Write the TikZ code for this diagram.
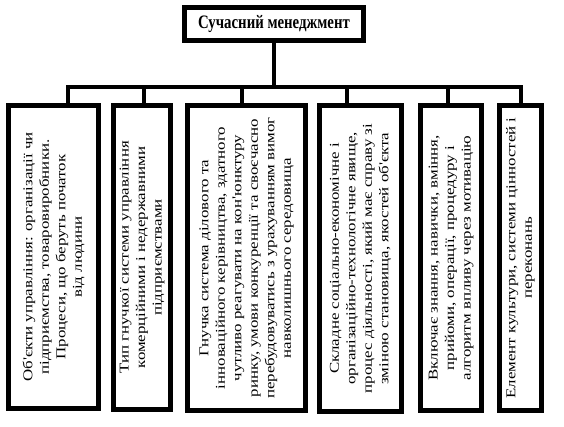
\documentclass[tikz,border=0pt]{standalone}
\usepackage{fontspec}
\setmainfont{Liberation Serif}
\newfontfamily\boxfont[FakeStretch=1.25]{Liberation Serif}
\newfontfamily\headfont[FakeStretch=0.78]{Liberation Serif}
\usetikzlibrary{positioning}

\begin{document}
\begin{tikzpicture}[x=1pt, y=-1pt,
  frame/.style={draw, line width=4.8pt, inner sep=0pt},
  vtext/.style={rotate=90, align=center, inner sep=0pt,
                font=\boxfont\fontsize{13.5}{16.5}\selectfont},
  link/.style={line width=4.8pt}
]
\useasboundingbox (0,0) rectangle (564,426);

% top box
\node[frame, minimum width=179.2pt, minimum height=33.2pt,
      font=\headfont\bfseries\fontsize{19}{22}\selectfont] (top) at (274,24) {Сучасний менеджмент};

% the six boxes
\node[frame, minimum width=90.2pt,  minimum height=303.2pt] (b1) at (53.5,257) {};
\node[frame, minimum width=57.2pt,  minimum height=304.2pt] (b2) at (142,257.5) {};
\node[frame, minimum width=118.2pt, minimum height=305.2pt] (b3) at (246.5,258) {};
\node[frame, minimum width=82.2pt,  minimum height=306.2pt] (b4) at (360.5,258.5) {};
\node[frame, minimum width=61.2pt,  minimum height=305.2pt] (b5) at (451,258) {};
\node[frame, minimum width=42.2pt,  minimum height=305.2pt] (b6) at (520.5,258) {};

\node[vtext] (t1) at (b1.center) {Об'єкти управління: організації чи\\ підприємства, товаровиробники.\\ Процеси, що беруть початок\\ від людини};
\node[vtext] (t2) at (b2.center) {Тип гнучкої системи управління\\ комерційними і недержавними\\ підприємствами};
\node[vtext] (t3) at (b3.center) {Гнучка система ділового та\\ інноваційного керівництва, здатного\\ чутливо реагувати на кон'юнктуру\\ ринку, умови конкуренції та своєчасно\\ перебудовуватись з урахуванням вимог\\ навколишнього середовища};
\node[vtext] (t4) at (b4.center) {Складне соціально-економічне і\\ організаційно-технологічне явище,\\ процес діяльності, який має справу зі\\ зміною становища, якостей об'єкта};
\node[vtext] (t5) at (b5.center) {Включає знання, навички, вміння,\\ прийоми, операції, процедуру і\\ алгоритм впливу через мотивацію};
\node[vtext] (t6) at (b6.center) {Елемент культури, системи цінностей і\\ переконань};

% bus
\coordinate (d1) at (68,87);
\coordinate (d2) at (144,87);
\coordinate (d3) at (242,87);
\coordinate (d4) at (347,87);
\coordinate (d5) at (448,87);
\coordinate (d6) at (521,87);

\draw[link] (top.south) -- (top.south |- d1);
\draw[link] (d1 |- b1.north) -- (d1) -- (d6) -- (d6 |- b6.north);
\foreach \i in {2,...,5}
  \draw[link] (d\i) -- (d\i |- b\i.north);
\end{tikzpicture}
\end{document}
